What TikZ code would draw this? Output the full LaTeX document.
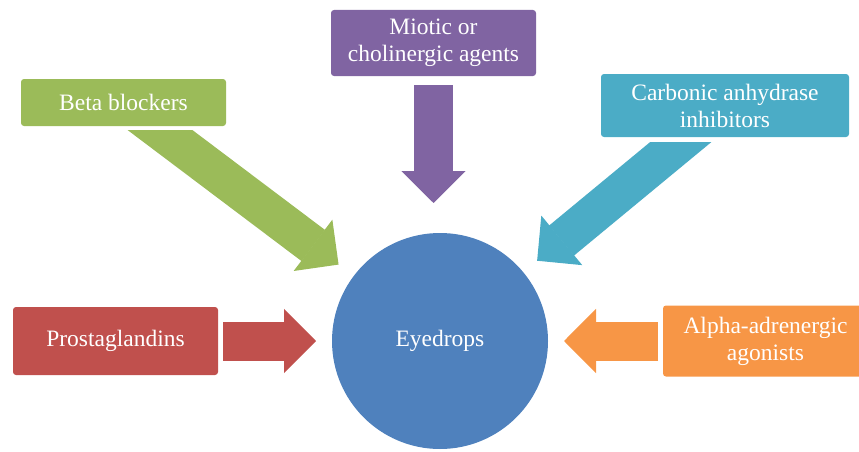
\documentclass[tikz,border=0pt]{standalone}
\usepackage{fontspec}
\setmainfont{Liberation Serif}
\usetikzlibrary{arrows.meta,positioning}

\definecolor{betagreen}{HTML}{9BBB59}
\definecolor{miopurple}{HTML}{8064A2}
\definecolor{carbteal}{HTML}{4BACC6}
\definecolor{prostred}{HTML}{C0504D}
\definecolor{alphaorange}{HTML}{F79646}
\definecolor{eyeblue}{HTML}{4F81BD}

\begin{document}
\begin{tikzpicture}[
	x=1pt, y=-1pt,
	every node/.style={
		text=white,
		font=\fontsize{23.5}{27}\selectfont,
		align=center,
		inner sep=0pt,
		outer sep=0pt
	},
	drugbox/.style={rectangle,rounded corners=3pt,minimum width=205pt,minimum height=#1},
	blockarrow/.style={
		draw=#1,
		line width=39pt,
		-{Triangle[width=64pt,length=32pt,line width=1.5pt]}
	}
]

\useasboundingbox (0,0) rectangle (859,452);

\node[circle,fill=eyeblue,minimum size=216pt] (eye) at (440,341) {Eyedrops};

\node[drugbox=47pt,fill=betagreen] (beta) at (123.5,102.5) {Beta blockers};
\node[drugbox=66pt,fill=miopurple] (miotic) at (433.5,43) {Miotic or\\cholinergic agents};
\node[drugbox=63pt,fill=carbteal,minimum width=248pt] (carbonic) at (725,105.5) {Carbonic anhydrase\\inhibitors};
\node[drugbox=68pt,fill=prostred,left=114pt of eye] (prost) {Prostaglandins};
\node[drugbox=71pt,fill=alphaorange,right=115pt of eye] (alpha) {Alpha-adrenergic\\agonists};

\draw[blockarrow=prostred,shorten <=5pt,shorten >=16pt] (prost) -- (eye);
\draw[blockarrow=alphaorange,shorten <=5pt,shorten >=16pt] (alpha) -- (eye);
\draw[blockarrow=miopurple,shorten <=9pt,shorten >=30pt] (miotic) -- (miotic |- eye.north);

\begin{scope}
	\clip ([yshift=-4pt]beta.south west) rectangle (eye.south east);
	\draw[blockarrow=betagreen,shorten <=-25pt,shorten >=19pt] (beta) -- (eye);
\end{scope}

\begin{scope}
	\clip ([yshift=-5pt]carbonic.south east) rectangle (eye.south west);
	\draw[blockarrow=carbteal,shorten <=-20pt,shorten >=18pt] (carbonic) -- (eye);
\end{scope}

\end{tikzpicture}
\end{document}
